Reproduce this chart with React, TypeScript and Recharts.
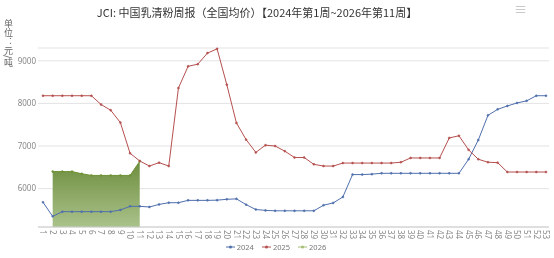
import React from "react";
import { ComposedChart, Line, Area, XAxis, YAxis, CartesianGrid } from "recharts";

const weeks = Array.from({ length: 53 }, (_, i) => String(i + 1));

const y2024 = [
  5680, 5350, 5460, 5460, 5460, 5460, 5460, 5460, 5500, 5585,
  5585, 5570, 5630, 5670, 5670, 5725, 5725, 5725, 5730, 5750,
  5760, 5625, 5510, 5490, 5480, 5480, 5480, 5480, 5480, 5610,
  5665, 5805, 6330, 6330, 6340, 6360, 6360, 6360, 6360, 6360,
  6360, 6360, 6360, 6360, 6690, 7140, 7720, 7860, 7940, 8010,
  8060, 8180, 8180,
];

const y2025 = [
  8180, 8180, 8180, 8180, 8180, 8180, 7975, 7840, 7550, 6830,
  6650, 6530, 6610, 6530, 8360, 8870, 8920, 9180, 9280, 8440,
  7540, 7150, 6850, 7020, 7000, 6880, 6730, 6730, 6570, 6530,
  6530, 6600, 6600, 6600, 6600, 6600, 6600, 6620, 6720, 6720,
  6720, 6720, 7190, 7240, 6910, 6690, 6620, 6610, 6390, 6390,
  6390, 6390, 6390,
];

const y2026: (number | null)[] = [
  null, 6400, 6400, 6400, 6350, 6310, 6310, 6310, 6310, 6310, 6640,
];

const yTicks = [6000, 7000, 8000, 9000];

const C2024 = "#4f6fad";
const C2025 = "#b5504f";
const C2026 = "#6e9134";
const C2026L = "#a3bd72";

const data = weeks.map((w, i) => ({
  week: w,
  y2024: y2024[i],
  y2025: y2025[i],
  y2026: i < y2026.length ? y2026[i] : null,
}));

const XTick = (props: any) => {
  const { x, y, payload } = props;
  return (
    <text
      x={x}
      y={y + 1}
      transform={`rotate(90, ${x}, ${y + 1})`}
      textAnchor="start"
      dy="0.35em"
      fontSize={8}
      fill="#888"
      fontFamily="'Noto Sans', sans-serif"
    >
      {payload.value}
    </text>
  );
};

const legendItems = [
  { label: "2024", color: C2024 },
  { label: "2025", color: C2025 },
  { label: "2026", color: C2026L },
];

export default function App() {
  return (
    <div
      style={{
        position: "fixed",
        left: 0,
        top: 0,
        width: 554,
        height: 258,
        background: "#fff",
        fontFamily: "'Noto Sans CJK SC', 'Noto Sans', sans-serif",
      }}
    >
      <div
        style={{
          position: "absolute",
          left: 0,
          width: 514,
          top: 4,
          textAlign: "center",
          fontSize: 11,
          color: "#333",
          lineHeight: "16px",
          whiteSpace: "nowrap",
        }}
      >
        JCI: 中国乳清粉周报（全国均价）【2024年第1周~2026年第11周】
      </div>
      <div
        style={{
          position: "absolute",
          left: 514,
          top: 1,
          fontSize: 13,
          color: "#bbb",
          lineHeight: "16px",
        }}
      >
        ≡
      </div>
      <div
        style={{
          position: "absolute",
          left: 3,
          top: 19,
          fontSize: 9,
          color: "#666",
          writingMode: "vertical-rl",
          lineHeight: "11px",
        }}
      >
        单位：元/吨
      </div>
      <ComposedChart
        width={554}
        height={258}
        data={data}
        margin={{ top: 48, right: 5, left: 0, bottom: 0 }}
      >
        <defs>
          <linearGradient id="g2026" x1="0" y1="0" x2="0" y2="1">
            <stop offset="0%" stopColor="#6e8e3e" stopOpacity={1} />
            <stop offset="100%" stopColor="#aac28b" stopOpacity={1} />
          </linearGradient>
        </defs>
        <CartesianGrid vertical={false} stroke="#e3e3e3" />
        <XAxis
          dataKey="week"
          interval={0}
          height={31}
          padding={{ left: 5, right: 3 }}
          tickLine={false}
          tickSize={0}
          tickMargin={2}
          axisLine={{ stroke: "#ccc" }}
          tick={<XTick />}
        />
        <YAxis
          width={38}
          domain={[5100, 9300]}
          ticks={yTicks}
          axisLine={false}
          tickLine={false}
          tickSize={0}
          tickMargin={2}
          tick={{ fontSize: 8, fill: "#888", fontFamily: "'Noto Sans', sans-serif" }}
        />
        <Area
          type="linear"
          dataKey="y2026"
          stroke={C2026}
          strokeWidth={1}
          fill="url(#g2026)"
          fillOpacity={1}
          dot={{ r: 1, fill: C2026, stroke: C2026, strokeWidth: 0.5 }}
          activeDot={false}
          isAnimationActive={false}
        />
        <Line
          type="linear"
          dataKey="y2024"
          stroke={C2024}
          strokeWidth={1}
          dot={{ r: 1, fill: C2024, stroke: C2024, strokeWidth: 0.5 }}
          activeDot={false}
          isAnimationActive={false}
        />
        <Line
          type="linear"
          dataKey="y2025"
          stroke={C2025}
          strokeWidth={1}
          dot={{ r: 1, fill: C2025, stroke: C2025, strokeWidth: 0.5 }}
          activeDot={false}
          isAnimationActive={false}
        />
      </ComposedChart>
      <div
        style={{
          position: "absolute",
          left: 0,
          width: 552,
          top: 242,
          display: "flex",
          justifyContent: "center",
          gap: 8,
          fontSize: 7.5,
          color: "#777",
          fontFamily: "'Noto Sans', sans-serif",
          lineHeight: "10px",
        }}
      >
        {legendItems.map((it) => (
          <div key={it.label} style={{ display: "flex", alignItems: "center", gap: 2 }}>
            <svg width={9} height={6}>
              <line x1={0} y1={3} x2={9} y2={3} stroke={it.color} strokeWidth={1} />
              <circle cx={4.5} cy={3} r={1.5} fill={it.color} />
            </svg>
            <span>{it.label}</span>
          </div>
        ))}
      </div>
    </div>
  );
}
